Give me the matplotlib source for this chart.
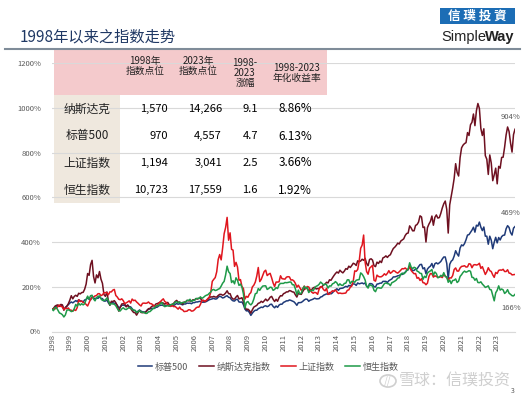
import matplotlib
matplotlib.use("Agg")
import matplotlib.pyplot as plt
from matplotlib.patches import Rectangle, Circle
import numpy as np

plt.rcParams['font.family'] = ['Noto Sans CJK SC', 'DejaVu Sans']

# monthly values, % of the 1998 start level (start = 100)
start_pct = 100
sp500 = [
    101, 108, 114, 115, 112, 117, 116, 99, 105, 113, 120, 127,    # 1998
    132, 128, 133, 138, 134, 142, 137, 136, 132, 141, 143, 151,   # 1999
    144, 141, 155, 150, 146, 150, 148, 156, 148, 147, 136, 136,   # 2000
    141, 128, 120, 129, 129, 126, 125, 117, 107, 109, 117, 118,   # 2001
    116, 114, 118, 111, 110, 102, 94, 94, 84, 91, 96, 91,         # 2002
    88, 87, 87, 95, 99, 101, 102, 104, 103, 108, 109, 115,        # 2003
    117, 118, 116, 114, 116, 118, 114, 114, 115, 116, 121, 125,   # 2004
    122, 124, 122, 119, 123, 123, 127, 126, 127, 124, 129, 129,   # 2005
    132, 132, 134, 135, 131, 131, 132, 134, 138, 142, 144, 146,   # 2006
    148, 145, 146, 153, 158, 155, 150, 152, 157, 160, 153, 151,   # 2007
    142, 137, 136, 143, 144, 132, 131, 132, 120, 100, 92, 93,     # 2008
    85, 72, 82, 90, 95, 95, 102, 105, 109, 107, 113, 115,         # 2009
    111, 114, 121, 122, 112, 106, 114, 108, 118, 122, 122, 130,   # 2010
    133, 137, 137, 141, 139, 136, 133, 126, 117, 129, 129, 130,   # 2011
    135, 141, 145, 144, 135, 140, 142, 145, 149, 146, 146, 147,   # 2012
    154, 156, 162, 165, 168, 166, 174, 168, 173, 181, 186, 191,   # 2013
    184, 192, 193, 194, 198, 202, 199, 206, 203, 208, 213, 212,   # 2014
    206, 217, 213, 215, 217, 213, 217, 203, 198, 214, 214, 211,   # 2015
    200, 199, 212, 213, 216, 216, 224, 224, 224, 219, 227, 231,   # 2016
    235, 244, 244, 246, 249, 250, 255, 255, 260, 265, 273, 276,   # 2017
    291, 280, 272, 273, 279, 280, 290, 299, 300, 280, 285, 258,   # 2018
    279, 287, 292, 304, 284, 303, 307, 302, 307, 313, 324, 333,   # 2019
    333, 305, 235, 300, 314, 320, 337, 361, 347, 337, 373, 387,   # 2020
    383, 393, 410, 431, 433, 443, 453, 466, 444, 475, 471, 489,   # 2021
    466, 451, 467, 426, 426, 390, 426, 408, 370, 399, 421, 396,   # 2022
    420, 409, 424, 430, 431, 459, 473, 465, 442, 431, 462, 469,   # 2023
]
nasdaq = [
    103, 113, 117, 119, 113, 121, 119, 95, 108, 113, 124, 140,
    160, 146, 157, 162, 157, 171, 168, 174, 175, 189, 212, 259,
    251, 299, 318, 246, 217, 253, 240, 268, 234, 215, 165, 157,
    177, 137, 117, 135, 134, 138, 129, 115, 91, 108, 123, 124,
    123, 110, 118, 108, 103, 93, 85, 84, 73, 85, 94, 85,
    84, 85, 85, 93, 102, 103, 111, 115, 114, 123, 125, 128,
    132, 129, 127, 122, 127, 130, 120, 117, 121, 126, 134, 139,
    131, 131, 127, 122, 132, 131, 139, 137, 137, 135, 142, 140,
    147, 145, 149, 148, 139, 138, 133, 139, 144, 151, 155, 154,
    157, 154, 154, 161, 166, 166, 162, 165, 172, 182, 169, 169,
    152, 145, 145, 154, 161, 146, 148, 151, 133, 110, 98, 100,
    94, 82, 97, 109, 113, 117, 126, 128, 135, 130, 137, 145,
    137, 143, 153, 157, 144, 134, 144, 135, 151, 160, 159, 169,
    172, 177, 177, 183, 181, 177, 176, 164, 154, 171, 167, 166,
    179, 189, 197, 194, 180, 187, 187, 195, 198, 190, 192, 192,
    200, 201, 208, 212, 220, 217, 231, 229, 240, 250, 259, 266,
    261, 274, 267, 262, 270, 281, 278, 292, 286, 295, 305, 302,
    295, 316, 312, 315, 323, 318, 327, 304, 294, 322, 325, 319,
    294, 290, 310, 304, 315, 308, 329, 332, 338, 331, 339, 343,
    358, 371, 377, 385, 395, 391, 404, 409, 414, 429, 438, 440,
    472, 463, 450, 450, 474, 478, 489, 517, 512, 465, 467, 400,
    464, 480, 492, 516, 475, 510, 521, 507, 509, 528, 552, 571,
    583, 546, 440, 566, 604, 641, 684, 750, 711, 695, 777, 821,
    833, 840, 844, 889, 876, 924, 935, 972, 920, 987, 1019, 997,
    907, 876, 906, 786, 770, 702, 789, 753, 674, 700, 730, 660,
    738, 730, 778, 779, 824, 878, 914, 894, 842, 802, 880, 904,
]
shanghai = [
    101, 101, 104, 112, 118, 112, 110, 98, 104, 102, 105, 96,
    95, 91, 97, 94, 107, 142, 134, 136, 130, 128, 121, 114,
    129, 144, 151, 154, 159, 161, 169, 169, 160, 164, 173, 174,
    173, 164, 177, 177, 185, 188, 161, 154, 144, 142, 146, 138,
    125, 128, 132, 137, 127, 145, 138, 140, 132, 126, 119, 114,
    126, 127, 126, 127, 132, 125, 124, 119, 114, 113, 117, 125,
    133, 140, 146, 134, 130, 117, 116, 112, 117, 111, 112, 106,
    100, 109, 99, 97, 89, 90, 91, 97, 97, 91, 92, 97,
    105, 109, 109, 121, 138, 140, 135, 139, 147, 154, 176, 224,
    233, 241, 267, 322, 344, 320, 374, 437, 465, 510, 408, 441,
    367, 364, 291, 309, 288, 229, 232, 201, 192, 145, 157, 153,
    167, 174, 199, 207, 221, 248, 286, 223, 233, 251, 268, 274,
    250, 256, 260, 240, 217, 201, 221, 221, 222, 249, 236, 235,
    234, 243, 245, 244, 230, 231, 226, 215, 198, 207, 195, 184,
    192, 203, 190, 201, 199, 186, 176, 171, 175, 173, 166, 190,
    200, 198, 187, 182, 193, 166, 167, 176, 182, 179, 186, 177,
    170, 172, 170, 170, 171, 172, 184, 186, 198, 203, 225, 271,
    269, 277, 314, 372, 386, 431, 310, 268, 256, 283, 289, 296,
    229, 225, 252, 246, 244, 245, 250, 258, 252, 260, 272, 260,
    265, 272, 270, 264, 261, 267, 274, 281, 280, 284, 278, 277,
    292, 273, 265, 258, 259, 238, 241, 228, 236, 218, 217, 209,
    216, 246, 259, 258, 243, 249, 246, 242, 243, 245, 241, 255,
    249, 241, 230, 240, 239, 250, 277, 284, 270, 270, 284, 291,
    292, 294, 288, 289, 303, 301, 285, 297, 299, 297, 299, 305,
    282, 290, 272, 255, 267, 285, 272, 268, 253, 242, 264, 259,
    273, 275, 274, 278, 268, 268, 276, 261, 260, 253, 254, 255,
]
hangseng = [
    93, 107, 107, 95, 83, 80, 75, 65, 74, 95, 97, 94,
    89, 91, 102, 121, 113, 126, 118, 124, 119, 124, 143, 158,
    145, 160, 162, 145, 137, 151, 157, 159, 146, 139, 139, 141,
    150, 138, 119, 125, 123, 122, 115, 103, 93, 92, 101, 106,
    100, 98, 103, 107, 105, 99, 96, 94, 85, 88, 94, 87,
    86, 85, 81, 81, 88, 89, 95, 102, 105, 114, 115, 117,
    124, 130, 118, 111, 114, 115, 114, 120, 122, 122, 131, 133,
    128, 132, 126, 130, 129, 132, 139, 139, 144, 134, 139, 139,
    147, 148, 147, 155, 148, 152, 158, 162, 164, 171, 177, 186,
    188, 183, 185, 189, 192, 203, 216, 224, 253, 292, 267, 259,
    219, 227, 213, 240, 229, 206, 212, 198, 168, 105, 130, 134,
    124, 119, 127, 145, 169, 171, 192, 184, 195, 203, 204, 204,
    188, 192, 198, 197, 184, 188, 196, 192, 209, 215, 215, 215,
    219, 218, 219, 221, 221, 209, 209, 191, 164, 185, 168, 172,
    190, 202, 192, 197, 174, 181, 185, 182, 194, 202, 205, 211,
    221, 215, 208, 212, 209, 194, 204, 203, 213, 216, 223, 217,
    205, 213, 207, 206, 215, 216, 231, 231, 214, 224, 224, 220,
    229, 231, 232, 262, 256, 245, 230, 202, 194, 211, 205, 204,
    184, 178, 194, 196, 194, 194, 204, 214, 217, 214, 213, 205,
    218, 221, 225, 230, 239, 240, 255, 261, 257, 263, 272, 279,
    307, 288, 281, 287, 284, 270, 267, 260, 259, 233, 247, 241,
    261, 267, 271, 277, 251, 266, 259, 240, 243, 251, 246, 263,
    245, 244, 220, 230, 214, 228, 229, 235, 219, 225, 246, 254,
    264, 270, 265, 268, 272, 269, 242, 241, 229, 237, 219, 218,
    222, 212, 205, 197, 200, 204, 188, 186, 161, 137, 173, 184,
    204, 185, 190, 186, 170, 176, 187, 171, 166, 160, 159, 166,
]

series_names = ['标普500', '纳斯达克指数', '上证指数', '恒生指数']
series_colors = ['#1f3a78', '#6e1020', '#e0161e', '#1e9a48']
# end label offsets in points (dx, dy)
end_labels = {'纳斯达克指数': (-3, 6), '标普500': (-3, 7), '恒生指数': (-3, -7)}
years = list(range(1998, 2024))

# table data
tbl_names = ['纳斯达克', '标普500', '上证指数', '恒生指数']
tbl_1998 = ['1,570', '970', '1,194', '10,723']
tbl_2023 = ['14,266', '4,557', '3,041', '17,559']
tbl_mult = ['9.1', '4.7', '2.5', '1.6']
tbl_cagr = ['8.86%', '6.13%', '3.66%', '1.92%']
tbl_head = ['1998年\n指数点位', '2023年\n指数点位', '1998-\n2023\n涨幅', '1998-2023\n年化收益率']

W, H = 525, 397
fig = plt.figure(figsize=(W / 100, H / 100), dpi=100)

def px(x, y):
    return x / W, 1 - y / H

ax = fig.add_axes([52 / W, 1 - 331.5 / H, 463 / W, 268.5 / H])
ax.set_zorder(2)
ax.patch.set_alpha(0)

t = 1998 + np.arange(len(sp500) + 1) / 12
for name, vals, c in zip(series_names, [sp500, nasdaq, shanghai, hangseng], series_colors):
    y = [start_pct] + vals
    ax.plot(t, y, color=c, lw=1.1, label=name)
    if name in end_labels:
        dx, dy = end_labels[name]
        ax.annotate(f'{vals[-1]}%', (t[-1], y[-1]), xytext=(dx, dy),
                    textcoords='offset points', ha='center',
                    va='bottom' if dy > 0 else 'top', fontsize=5.5, color='#595959')

ax.set_xlim(1998, 2024)
ax.set_ylim(0, 1200)
ax.set_yticks(range(0, 1201, 200))
ax.set_yticklabels([f'{v}%' for v in range(0, 1201, 200)])
ax.set_xticks(years)
ax.set_xticklabels([str(y) for y in years], rotation=90)
ax.tick_params(axis='both', length=0, labelsize=5.5, labelcolor='#595959')
ax.tick_params(axis='y', pad=8)
ax.tick_params(axis='x', pad=2)
ax.grid(axis='y', color='#d9d9d9', lw=0.8)
ax.set_axisbelow(True)
for s in ['left', 'right', 'top']:
    ax.spines[s].set_visible(False)
ax.spines['bottom'].set_color('#d9d9d9')

leg = ax.legend(loc='center', bbox_to_anchor=(268 / W, 1 - 367 / H), bbox_transform=fig.transFigure,
                ncol=4, frameon=False, fontsize=6.5, handlelength=1.6, handletextpad=0.3,
                columnspacing=1.2, labelcolor='#595959')

# header and logo
fig.text(*px(20, 37), '1998年以来之指数走势', fontsize=11, color='#1f3864', va='center')
fig.add_artist(plt.Line2D([5 / W, 520 / W], [1 - 49 / H, 1 - 49 / H], color='#7f8c99', lw=1.5))
fig.add_artist(Rectangle(px(440, 24), 75 / W, 16 / H, color='#1c6db5', lw=0))
fig.text(*px(477.5, 16), '信 璞 投 資', fontsize=9, color='white', ha='center', va='center',
         family=['Noto Sans CJK TC', 'DejaVu Sans'], fontweight='bold')
fig.text(*px(441, 37), 'Simple', fontsize=10.5, color='#222222', va='center', family='Liberation Sans')
fig.text(*px(514, 37), 'Way', fontsize=10.5, color='#222222', va='center', ha='right',
         family='Liberation Sans', fontweight='bold')

# table
fig.add_artist(Rectangle(px(54, 95), 273 / W, 45 / H, color='#f4cacc', lw=0, zorder=1))
fig.add_artist(Rectangle(px(54, 203), 66 / W, 108 / H, color='#efe8de', lw=0, zorder=1))
head_x = [145, 198, 245, 297]
head_y = [66, 66, 73, 73]
for hx, hy, txt in zip(head_x, head_y, tbl_head):
    fig.text(*px(hx, hy), txt, fontsize=7, ha='center', va='center', linespacing=1.05, color='#222222')
row_y = [109, 136, 163, 190]
for i, ry in enumerate(row_y):
    fig.text(*px(87, ry), tbl_names[i], fontsize=8.5, ha='center', va='center', color='#222222')
    fig.text(*px(168, ry), tbl_1998[i], fontsize=8, ha='right', va='center')
    fig.text(*px(222, ry), tbl_2023[i], fontsize=8, ha='right', va='center')
    fig.text(*px(258, ry), tbl_mult[i], fontsize=8, ha='right', va='center')
    fig.text(*px(312, ry), tbl_cagr[i], fontsize=8.5, ha='right', va='center')

# watermark
fig.add_artist(Circle(px(388, 381), 8 / W, transform=fig.transFigure, fill=False,
                      ec='#cfcfcf', lw=1.2))
fig.text(*px(388, 381), '//', fontsize=7, color='#cfcfcf', ha='center', va='center')
fig.text(*px(399, 381), '雪球：信璞投资', fontsize=11.5, color='#cfcfcf', va='center')
fig.text(*px(511, 391), '3', fontsize=5, color='#595959', va='center')

fig.savefig('out.png', dpi=100)
